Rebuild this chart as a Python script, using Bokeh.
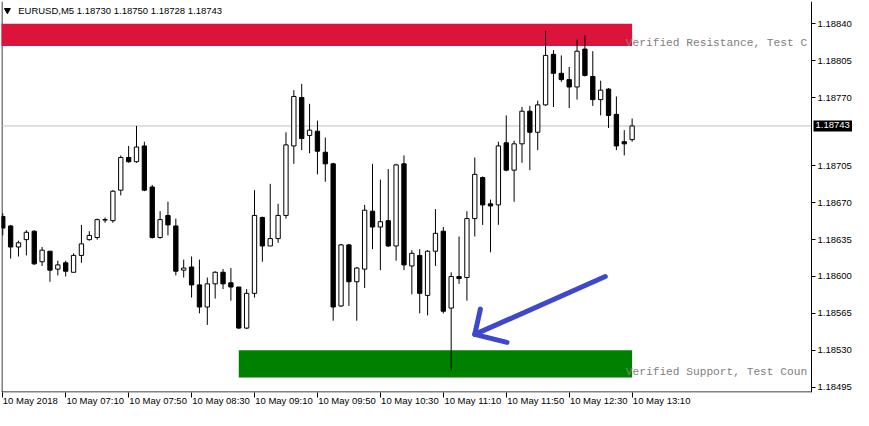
from bokeh.plotting import figure
from bokeh.models import Range1d, LinearAxis, FixedTicker, Label, PrintfTickFormatter
from bokeh.embed import file_html
from bokeh.resources import INLINE
from bokeh.core.properties import value

header = "EURUSD,M5  1.18730 1.18750 1.18728 1.18743"

opens = [1.18657, 1.18648, 1.18628, 1.18635, 1.18643, 1.18614, 1.18624, 1.18607, 1.18613, 1.18604,
         1.18620, 1.18635, 1.18637, 1.18654, 1.18653, 1.18682, 1.18713, 1.18709, 1.18724, 1.18685,
         1.18637, 1.18658, 1.18648, 1.18606, 1.18609, 1.18592, 1.18571, 1.18593, 1.18604, 1.18594,
         1.18590, 1.18551, 1.18584, 1.18656, 1.18629, 1.18636, 1.18658, 1.18724, 1.18770, 1.18734,
         1.18738, 1.18718, 1.18707, 1.18572, 1.18630, 1.18595, 1.18607, 1.18662, 1.18647, 1.18653,
         1.18629, 1.18707, 1.18610, 1.18620, 1.18582, 1.18624, 1.18643, 1.18570, 1.18600, 1.18599,
         1.18655, 1.18694, 1.18669, 1.18668, 1.18727, 1.18701, 1.18726, 1.18757, 1.18737, 1.18763,
         1.18811, 1.18793, 1.18787, 1.18780, 1.18816, 1.18790, 1.18768, 1.18778, 1.18754, 1.18728,
         1.18730]
highs = [1.18660, 1.18649, 1.18634, 1.18644, 1.18644, 1.18628, 1.18624, 1.18615, 1.18615, 1.18622,
         1.18649, 1.18643, 1.18655, 1.18656, 1.18682, 1.18715, 1.18724, 1.18743, 1.18728, 1.18687,
         1.18662, 1.18671, 1.18655, 1.18616, 1.18619, 1.18616, 1.18599, 1.18605, 1.18607, 1.18608,
         1.18590, 1.18588, 1.18682, 1.18657, 1.18688, 1.18669, 1.18737, 1.18777, 1.18783, 1.18764,
         1.18748, 1.18732, 1.18708, 1.18631, 1.18631, 1.18609, 1.18668, 1.18707, 1.18692, 1.18702,
         1.18707, 1.18715, 1.18625, 1.18626, 1.18625, 1.18664, 1.18647, 1.18604, 1.18638, 1.18662,
         1.18713, 1.18695, 1.18673, 1.18728, 1.18753, 1.18729, 1.18761, 1.18762, 1.18767, 1.18833,
         1.18815, 1.18810, 1.18799, 1.18825, 1.18829, 1.18814, 1.18786, 1.18779, 1.18771, 1.18739,
         1.18750]
lows = [1.18639, 1.18617, 1.18619, 1.18620, 1.18611, 1.18610, 1.18595, 1.18601, 1.18600, 1.18604,
        1.18613, 1.18634, 1.18635, 1.18651, 1.18651, 1.18677, 1.18708, 1.18708, 1.18681, 1.18636,
        1.18636, 1.18639, 1.18601, 1.18599, 1.18580, 1.18565, 1.18554, 1.18579, 1.18588, 1.18577,
        1.18550, 1.18550, 1.18580, 1.18614, 1.18629, 1.18632, 1.18655, 1.18707, 1.18720, 1.18717,
        1.18697, 1.18690, 1.18558, 1.18571, 1.18572, 1.18558, 1.18589, 1.18626, 1.18606, 1.18628,
        1.18615, 1.18606, 1.18583, 1.18565, 1.18563, 1.18610, 1.18565, 1.18511, 1.18593, 1.18577,
        1.18638, 1.18649, 1.18623, 1.18649, 1.18700, 1.18671, 1.18708, 1.18701, 1.18720, 1.18762,
        1.18761, 1.18785, 1.18760, 1.18768, 1.18790, 1.18762, 1.18753, 1.18741, 1.18720, 1.18715,
        1.18728]
closes = [1.18646, 1.18628, 1.18632, 1.18642, 1.18612, 1.18625, 1.18606, 1.18611, 1.18605, 1.18620,
          1.18631, 1.18639, 1.18654, 1.18654, 1.18681, 1.18713, 1.18709, 1.18723, 1.18682, 1.18637,
          1.18654, 1.18649, 1.18605, 1.18608, 1.18592, 1.18571, 1.18593, 1.18604, 1.18593, 1.18590,
          1.18551, 1.18584, 1.18658, 1.18629, 1.18636, 1.18658, 1.18725, 1.18771, 1.18731, 1.18739,
          1.18719, 1.18707, 1.18571, 1.18630, 1.18595, 1.18608, 1.18663, 1.18647, 1.18652, 1.18629,
          1.18706, 1.18611, 1.18622, 1.18584, 1.18624, 1.18641, 1.18567, 1.18600, 1.18598, 1.18655,
          1.18697, 1.18668, 1.18667, 1.18724, 1.18701, 1.18726, 1.18757, 1.18737, 1.18763, 1.18810,
          1.18793, 1.18787, 1.18780, 1.18814, 1.18791, 1.18768, 1.18777, 1.18753, 1.18724, 1.18726,
          1.18743]

tick_bars = [0, 8, 16, 24, 32, 40, 48, 56, 64, 72, 80]
tick_labels = ["10 May 2018", "10 May 07:10", "10 May 07:50", "10 May 08:30", "10 May 09:10",
               "10 May 09:50", "10 May 10:30", "10 May 11:10", "10 May 11:50", "10 May 12:30",
               "10 May 13:10"]
price_ticks = [1.18840, 1.18805, 1.18770, 1.18705, 1.18670, 1.18635, 1.18600, 1.18565, 1.18530, 1.18495]
last_price = 1.18743

resistance_top, resistance_bottom = 1.18840, 1.18819
resistance_from, zone_to = -1, 80
support_top, support_bottom = 1.18530, 1.18504
support_from = 30
resistance_text = "Verified Resistance, Test C"
support_text = "Verified Support, Test Coun"
zone_text_bar = 79.2
resistance_text_price = 1.188216
support_text_price = 1.185096

arrow_shaft_x = [76.59, 60.0]
arrow_shaft_y = [1.18600, 1.18545]
arrow_head_x = [60.71, 60.0, 64.09]
arrow_head_y = [1.18569, 1.18545, 1.185374]

FONT = "Liberation Sans"

# layout: chart area of the frame up to the price scale, then the price-label strip
FRAME_W, FRAME_H = 851, 391
CHART_W = 810
X0, XAXIS = -0.16, 102.8
px_per_bar = CHART_W / (XAXIS - X0)
X1 = XAXIS + (FRAME_W - CHART_W) / px_per_bar
Y0, Y1 = 1.184898, 1.188612
px_y = (Y1 - Y0) / FRAME_H

bars = list(range(len(opens)))
p = figure(frame_width=FRAME_W, frame_height=FRAME_H,
           x_range=Range1d(X0, X1), y_range=Range1d(Y0, Y1),
           x_axis_location="below", y_axis_location="right",
           toolbar_location=None, output_backend="svg",
           min_border_left=1, min_border_top=1, min_border_right=0, min_border_bottom=0,
           background_fill_color="white", border_fill_color="white",
           outline_line_color=None)
p.grid.grid_line_color = None

# price scale drawn at the right edge of the chart area
yax = p.yaxis[0]
yax.fixed_location = XAXIS
yax.ticker = FixedTicker(ticks=price_ticks)
yax.formatter = PrintfTickFormatter(format="%.5f")
yax.major_tick_in = 0
yax.major_tick_out = 4
yax.minor_tick_line_color = None
yax.axis_line_color = "black"
yax.major_label_standoff = 2
yax.major_label_text_font = FONT
yax.major_label_text_font_size = "9.5px"
yax.major_label_text_color = "black"

# time scale: tick marks as minor ticks at the bars, labels just right of them
label_pos = [b + (3.5 if i == 0 else 3.75) for i, b in enumerate(tick_bars)]
xax = p.xaxis[0]
xax.ticker = FixedTicker(ticks=label_pos, minor_ticks=tick_bars)
xax.major_label_overrides = {pos: lab for pos, lab in zip(label_pos, tick_labels)}
xax.axis_line_color = None
xax.major_tick_line_color = None
xax.major_tick_in = 0
xax.major_tick_out = 5
xax.minor_tick_line_color = "black"
xax.minor_tick_in = 0
xax.minor_tick_out = 5
xax.major_label_standoff = -3
xax.major_label_text_font = FONT
xax.major_label_text_font_size = "9.5px"
xax.major_label_text_color = "black"

# chart borders (left and bottom)
p.segment(x0=[X0 + 0.5 / px_per_bar, X0], y0=[Y0, Y0 + 0.5 * px_y],
          x1=[X0 + 0.5 / px_per_bar, XAXIS], y1=[Y1, Y0 + 0.5 * px_y],
          line_color="black", line_width=1)

# zones
p.quad(left=[resistance_from], right=[zone_to], top=[resistance_top], bottom=[resistance_bottom],
       fill_color="#DC143C", line_color=None)
p.quad(left=[support_from], right=[zone_to], top=[support_top], bottom=[support_bottom],
       fill_color="#008000", line_color=None)

# last price line
p.segment(x0=[X0], y0=[last_price], x1=[XAXIS], y1=[last_price], line_color="#C0C0C0", line_width=1)

# candles
up = [c >= o for o, c in zip(opens, closes)]
tops = [max(o, c) for o, c in zip(opens, closes)]
bottoms = [min(o, c) if o != c else o - 0.000004 for o, c in zip(opens, closes)]
p.segment(x0=bars, y0=lows, x1=bars, y1=highs, line_color="black", line_width=1)
p.vbar(x=bars, width=0.55, top=tops, bottom=bottoms,
       fill_color=["white" if u else "black" for u in up], line_color="black", line_width=1)

# zone texts
p.text(x=[zone_text_bar, zone_text_bar], y=[resistance_text_price, support_text_price],
       text=[resistance_text, support_text], text_font=value("Liberation Mono"),
       text_font_size="11.2px", text_color="#808080", text_baseline="middle", text_align="left")

# arrow
p.line(arrow_shaft_x, arrow_shaft_y, line_color="#3F48CC", line_width=5, line_cap="round")
p.line(arrow_head_x, arrow_head_y, line_color="#3F48CC", line_width=5, line_cap="round",
       line_join="round")

# header
p.scatter(x=[0.59], y=[1.188529], marker="inverted_triangle", size=6, color="black")
p.text(x=[1.96], y=[1.188529], text=[header], text_font=value(FONT), text_font_size="9.5px",
       text_color="black", text_baseline="middle", text_align="left")

# last price tag on the price scale
p.add_layout(Label(x=XAXIS + 2 / px_per_bar, y=last_price,
                   text=f"{last_price:.5f}", text_font=FONT, text_font_size="9.5px",
                   text_color="white", background_fill_color="black",
                   text_baseline="middle", text_align="left", padding=(2, 6, 2, 3)))

open("out.html", "w").write(file_html(p, INLINE))
